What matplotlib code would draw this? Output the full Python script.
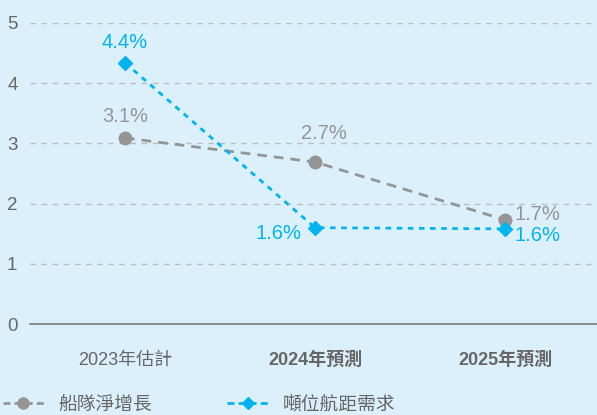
import matplotlib
matplotlib.use("Agg")
import matplotlib.pyplot as plt
from matplotlib.lines import Line2D

categories = ["2023年估計", "2024年預測", "2025年預測"]
fleet_growth = [3.09, 2.69, 1.73]
fleet_labels = ["3.1%", "2.7%", "1.7%"]
demand = [4.34, 1.6, 1.58]
demand_labels = ["4.4%", "1.6%", "1.6%"]
series_names = ["船隊淨增長", "噸位航距需求"]

FONT = ["Liberation Sans", "Noto Sans CJK TC", "DejaVu Sans"]
plt.rcParams["font.family"] = FONT

BG = "#dcf0fb"
GRAY = "#959595"
BLUE = "#00b4ef"
TXT = "#666666"

fig = plt.figure(figsize=(5.97, 4.15), dpi=100, facecolor=BG)
ax = fig.add_axes([30/597, 91/415, 1 - 30/597 + 0.005, 301/415])
ax.set_facecolor(BG)

x = list(range(len(categories)))
ax.plot(x, fleet_growth, color=GRAY, lw=2, ls=(0, (3.5, 2.5)), marker="o", ms=9, zorder=3)
ax.plot(x, demand, color=BLUE, lw=2, ls=(0, (2, 2)), marker="D", ms=7, zorder=4)

ax.set_xlim(-0.5, 2.5)
ax.set_ylim(0, 5)
ax.set_yticks([0, 1, 2, 3, 4, 5])
for y in [1, 2, 3, 4, 5]:
    ax.axhline(y, color="#bdbdbd", lw=1, ls=(0, (4, 4)), zorder=1)
for s in ["top", "right", "left"]:
    ax.spines[s].set_visible(False)
ax.spines["bottom"].set_color("#7a7a7a")
ax.spines["bottom"].set_linewidth(1.2)
ax.tick_params(axis="y", length=0, labelsize=13.5, labelcolor=TXT, pad=9)
ax.tick_params(axis="x", length=0, labelsize=13, labelcolor=TXT, pad=20)
ax.set_xticks(x)
ax.set_xticklabels(categories)
for i, lbl in enumerate(ax.get_xticklabels()):
    if i > 0:
        lbl.set_fontweight("bold")

fs = 14.5
def lab(txt, xy, off, ha, color):
    ax.annotate(txt, xy, xytext=off, textcoords="offset points",
                ha=ha, va="center", color=color, fontsize=fs)

lab(fleet_labels[0], (x[0], fleet_growth[0]), (0, 15.5), "center", GRAY)
lab(fleet_labels[1], (x[1], fleet_growth[1]), (6.5, 20.5), "center", GRAY)
lab(fleet_labels[2], (x[2], fleet_growth[2]), (6.5, 3.6), "left", GRAY)
lab(demand_labels[0], (x[0], demand[0]), (0, 14.5), "center", BLUE)
lab(demand_labels[1], (x[1], demand[1]), (-10, -4.3), "right", BLUE)
lab(demand_labels[2], (x[2], demand[2]), (6.5, -5), "left", BLUE)

handles = [
    Line2D([0], [0], color=GRAY, lw=2, ls=(0, (2.5, 1.5)), marker="o", ms=8),
    Line2D([0], [0], color=BLUE, lw=2, ls=(0, (2.5, 1.5)), marker="D", ms=6),
]
fig.legend(handles, series_names, loc="lower left", bbox_to_anchor=(-0.024, -0.038), ncol=2,
           frameon=False, fontsize=13.5, labelcolor=TXT, handlelength=2.2, columnspacing=3.97,
           handletextpad=0.8)

fig.savefig("out.png", dpi=100, facecolor=BG)
